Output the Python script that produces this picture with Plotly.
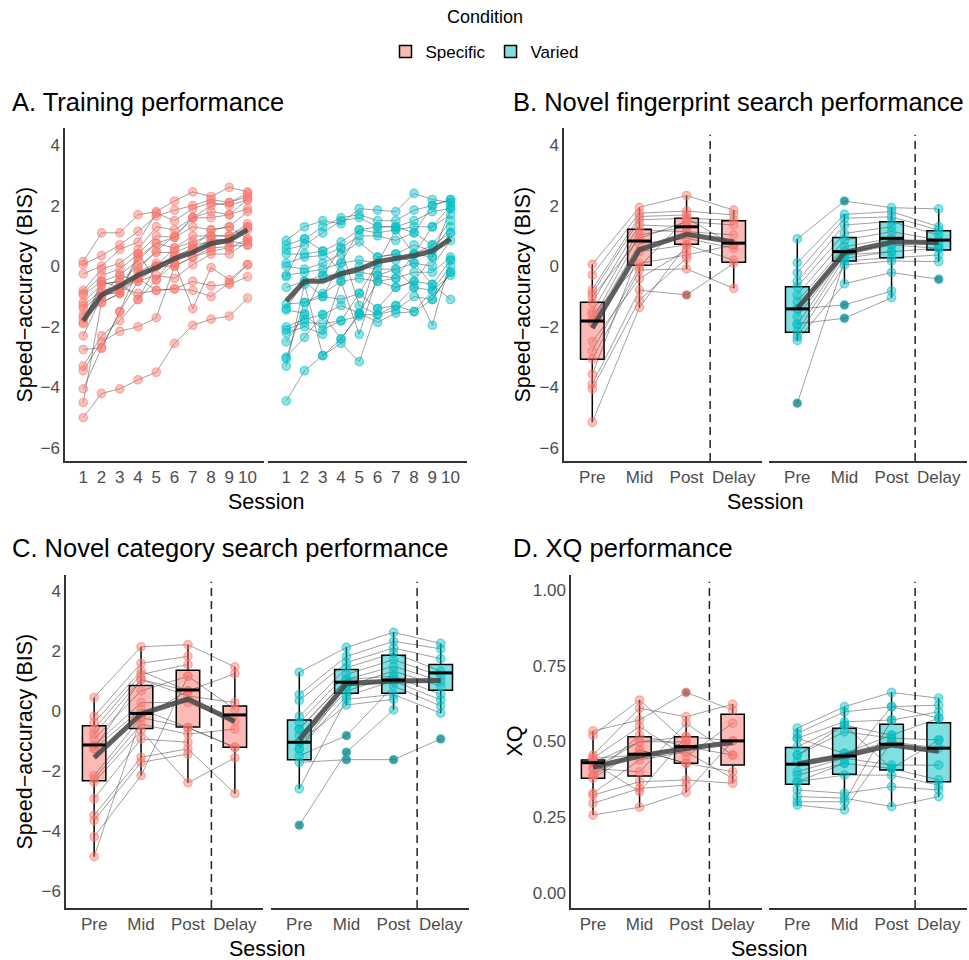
import plotly.graph_objects as go

W, H = 969, 960
FONT = "Liberation Sans, Arial, Helvetica, sans-serif"
SPEC_COL = (248, 118, 109)
VAR_COL = (0, 191, 196)

conditions = ["Specific", "Varied"]
train_sessions = [1, 2, 3, 4, 5, 6, 7, 8, 9, 10]
train_labels = ["1", "2", "3", "4", "5", "6", "7", "8", "9", "10"]
test_sessions = [1, 2, 3, 4]
test_labels = ["Pre", "Mid", "Post", "Delay"]

# ---------------- A. Training performance (BIS per participant, sessions 1-10)
train_specific = [
    [0.15, 1.10, 1.10, 1.70, 1.80, 2.15, 2.45, 2.30, 2.60, 2.45],
    [0.05, 0.35, 0.70, 1.15, 1.65, 1.85, 2.00, 2.20, 2.10, 2.30],
    [-0.25, 0.00, 0.55, 0.80, 1.75, 1.50, 1.90, 2.10, 2.00, 2.20],
    [-0.80, -0.10, 0.10, 0.55, 1.30, 1.20, 1.60, 1.60, 1.70, 1.90],
    [-0.90, -0.30, -0.10, 0.40, 1.00, 0.95, 1.30, 1.20, 1.30, 1.80],
    [-0.95, -0.50, -0.30, 0.20, 0.75, 0.60, 1.00, 1.00, 1.00, 1.40],
    [-1.20, -0.60, -0.50, 0.00, 0.45, 0.45, 0.70, 0.80, 0.90, 1.30],
    [-1.30, -0.80, -0.70, -0.20, 0.10, 0.20, 0.55, 0.70, 0.80, 1.20],
    [-1.40, -0.90, -0.90, -0.40, 0.00, 0.00, 0.30, 0.50, 0.60, 0.90],
    [-1.60, -1.00, -0.30, -0.50, -0.30, -0.40, 0.05, 0.40, 0.40, 0.80],
    [-1.70, -1.20, -0.90, 0.40, -0.45, 0.10, -1.40, -0.05, -0.45, 0.05],
    [-1.85, -0.50, -0.70, -0.90, -0.80, -0.75, -0.80, -1.00, -0.55, 0.05],
    [-1.90, -0.60, -0.50, -1.10, -0.45, 0.35, 0.55, 0.90, 0.85, 0.70],
    [-2.30, -1.00, -0.80, -0.40, -0.80, -0.75, -0.50, -0.65, -0.60, -0.35],
    [-2.75, -2.70, -1.50, -0.50, 0.00, 0.60, 0.80, 1.00, 1.00, 1.30],
    [-3.30, -2.30, -1.80, -1.10, 0.00, 0.30, 0.60, 1.20, 1.30, 0.90],
    [-3.45, -2.50, -2.15, -2.00, -1.70, 0.00, 0.30, 0.60, 0.65, 0.70],
    [-4.05, -2.70, -1.50, -0.10, 0.50, 1.00, 1.60, 1.80, 1.70, 2.20],
    [-4.50, -1.20, -0.90, 0.30, 0.75, 0.95, 1.60, 2.00, 2.10, 2.40],
    [-5.00, -4.20, -4.05, -3.75, -3.50, -2.55, -1.95, -1.75, -1.65, -1.05],
]
train_varied = [
    [0.85, 1.30, 1.50, 1.40, 1.90, 1.85, 1.80, 2.40, 2.20, 2.10],
    [0.70, 0.90, 1.30, 1.60, 1.70, 1.50, 1.50, 1.85, 2.00, 2.20],
    [0.55, 0.70, 1.10, 1.50, 1.60, 1.30, 1.30, 1.50, 1.80, 1.90],
    [0.40, 0.40, 0.50, 0.80, 1.20, 1.10, 1.20, 1.30, 1.30, 1.70],
    [0.10, 0.30, 0.35, 0.60, 1.00, 1.00, 0.85, 1.10, 0.70, 1.50],
    [0.00, -0.10, 0.10, 0.40, 0.80, 0.30, 0.40, 0.70, 0.50, 1.30],
    [-0.30, -0.20, -0.10, 0.10, 0.20, 0.10, 0.20, 0.40, 0.30, 1.10],
    [-0.35, 0.90, 0.50, -0.20, 0.00, -0.10, -0.10, 0.10, 0.00, 0.85],
    [-0.70, -0.50, -0.30, -0.30, -0.20, -0.30, -0.40, -0.20, -0.20, 0.30],
    [-1.25, -1.20, -0.90, -0.50, -0.40, -0.50, -0.70, -0.50, -0.60, 0.20],
    [-1.40, -0.50, -1.00, -1.10, -0.90, -1.40, -1.30, -0.70, -0.80, 0.00],
    [-1.45, -1.55, -0.30, 0.60, -1.30, -1.60, -1.45, -1.00, -1.10, -0.20],
    [-2.00, -1.75, -1.60, -1.30, -1.55, -1.85, -1.55, -1.50, -0.80, -0.30],
    [-2.10, -1.85, -1.90, -1.80, -1.65, 0.30, 0.40, 0.10, -0.60, -1.10],
    [-2.20, -2.00, -2.25, -0.50, -2.25, -0.30, -0.10, -0.70, -1.95, 0.20],
    [-2.50, -1.60, -2.10, -1.80, -0.90, 0.10, 1.20, 0.40, 0.70, 1.10],
    [-3.00, -2.35, -1.60, -2.40, -1.55, -0.50, -0.40, 0.40, 1.30, 2.00],
    [-3.05, -1.20, -1.00, 0.10, 1.20, 1.30, 1.30, 1.10, 2.00, 2.20],
    [-3.30, -0.60, -2.95, -2.55, -3.15, -1.40, -0.70, -0.50, 0.30, 1.90],
    [-4.45, -3.45, -2.95, -2.40, -1.60, -1.60, -1.30, -1.50, -1.10, -0.20],
]
train_mean_specific = [-1.80, -0.95, -0.65, -0.30, -0.05, 0.25, 0.45, 0.75, 0.85, 1.20]
train_mean_varied = [-1.15, -0.50, -0.50, -0.25, -0.10, 0.15, 0.25, 0.35, 0.50, 0.90]

# ---------------- B. Novel fingerprint search (Pre, Mid, Post, Delay)
fp_specific = [
    [0.06, 1.94, 2.33, 1.85], [-0.29, 1.75, 1.82, 1.69], [-0.77, 1.64, 1.69, None],
    [-0.90, 1.53, 1.58, 1.52], [-1.01, 0.92, 1.47, 1.36], [-1.20, 1.36, 1.30, None],
    [-1.50, 1.19, 1.14, 1.03], [-1.60, 0.09, 0.37, 0.70], [-1.78, 1.03, 1.30, None],
    [-1.85, 0.75, 0.92, 0.59], [-2.49, -0.41, 0.53, None], [-3.07, -0.13, -0.09, -0.73],
    [-3.57, 0.48, 0.70, 0.20], [-3.90, -0.79, -0.95, 0.09], [-4.05, -1.12, 0.26, None],
    [-5.15, -1.36, 0.70, None], [-2.80, -0.02, 1.58, 0.70],
]
fp_varied = [
    [0.90, 2.15, 1.93, 1.89], [0.11, 1.71, 1.80, 1.30], [-0.22, 1.58, 1.63, 1.19],
    [-0.50, 1.36, 1.47, 1.03], [-0.68, 1.08, 1.30, None], [-0.95, 0.86, 1.14, 0.86],
    [-1.17, 0.64, 0.92, 0.70], [-1.41, 0.48, 0.70, None], [-1.67, 0.37, 0.48, 0.59],
    [-1.94, 0.37, 0.70, 0.59], [-2.16, 0.26, 0.48, None], [-2.33, 0.04, 0.17, 0.15],
    [-2.45, -0.58, -0.21, -0.43], [-1.41, -1.28, -0.82, None], [-1.90, -1.72, -1.04, None],
    [-4.52, 0.17, 0.28, 0.37],
]
fp_mean_specific = [-2.05, 0.55, 1.05, 0.80]
fp_mean_varied = [-1.40, 0.45, 0.80, 0.78]
fp_specific_q1 = [-3.07, 0.03, 0.72, 0.13]
fp_specific_med = [-1.81, 0.83, 1.30, 0.76]
fp_specific_q3 = [-1.19, 1.22, 1.58, 1.50]
fp_specific_lo = [-5.15, -1.36, -0.09, -0.73]
fp_specific_hi = [0.06, 1.94, 2.33, 1.85]
fp_varied_q1 = [-2.18, 0.17, 0.28, 0.53]
fp_varied_med = [-1.41, 0.48, 0.92, 0.86]
fp_varied_q3 = [-0.68, 0.95, 1.47, 1.17]
fp_varied_lo = [-2.45, -0.58, -1.04, 0.15]
fp_varied_hi = [0.90, 1.71, 1.93, 1.89]

# ---------------- C. Novel category search
cat_specific = [
    [0.45, 2.14, 2.21, 1.47], [-0.18, 1.59, 1.82, None], [-0.38, 1.33, 0.67, 1.24],
    [-0.60, 1.22, 1.55, None], [-0.77, 1.05, 0.50, 0.28], [-0.93, 0.67, 1.16, 0.06],
    [-1.15, 0.28, 0.28, -0.33], [-1.26, 0.06, -0.55, -1.21], [-2.15, -0.22, 0.67, None],
    [-2.26, -0.44, -0.77, -0.60], [-2.37, -0.66, -2.39, -1.56], [-2.92, -0.93, -1.04, None],
    [-3.47, -1.54, -1.26, -2.75], [-3.64, -1.71, -1.43, None], [-4.19, -2.15, 1.16, None],
    [-4.85, -0.22, -0.55, -1.21], [-1.26, 1.05, 0.67, None],
]
cat_varied = [
    [1.29, 2.12, 2.62, 2.25], [0.55, 1.82, 2.32, 2.07], [0.35, 1.61, 2.10, 1.74],
    [-0.18, 1.44, 1.93, 1.33], [-0.38, 1.22, 1.71, 1.16], [-0.60, 1.05, 1.49, 1.00],
    [-0.82, 0.83, 1.33, 0.83], [-1.04, 0.67, 1.16, 0.55], [-1.26, 0.50, 1.00, 0.37],
    [-1.49, -0.82, 0.83, 0.17], [-1.71, -1.62, -1.62, -0.93], [-2.59, 0.39, 0.55, -0.07],
    [-3.80, -1.37, 0.04, None], [-1.04, 0.20, 0.39, None], [-0.60, 1.05, 1.16, None],
    [-1.26, 0.83, 1.00, None],
]
cat_mean_specific = [-1.55, -0.10, 0.40, -0.35]
cat_mean_varied = [-0.95, 0.92, 1.00, 1.02]
cat_specific_q1 = [-2.32, -0.58, -0.53, -1.21]
cat_specific_med = [-1.13, -0.08, 0.70, -0.13]
cat_specific_q3 = [-0.49, 0.85, 1.36, 0.17]
cat_specific_lo = [-4.85, -2.15, -2.39, -2.75]
cat_specific_hi = [0.45, 2.14, 2.21, 1.47]
cat_varied_q1 = [-1.62, 0.59, 0.59, 0.69]
cat_varied_med = [-1.04, 0.96, 1.03, 1.27]
cat_varied_q3 = [-0.30, 1.38, 1.86, 1.55]
cat_varied_lo = [-2.59, 0.20, 0.04, -0.07]
cat_varied_hi = [1.29, 2.12, 2.62, 2.25]

# ---------------- D. XQ performance
xq_specific = [
    [0.535, 0.571, 0.662, 0.604], [0.521, 0.637, 0.499, None], [0.455, 0.610, 0.582, 0.623],
    [0.445, 0.549, 0.450, 0.560], [0.430, 0.499, 0.516, 0.502], [0.411, 0.400, 0.560, 0.455],
    [0.389, 0.521, 0.483, None], [0.379, 0.472, 0.428, 0.400], [0.329, 0.439, 0.466, 0.378],
    [0.323, 0.367, 0.373, 0.362], [0.296, 0.345, 0.356, None], [0.257, 0.283, 0.332, 0.502],
    [0.430, 0.334, 0.516, None], [0.445, 0.455, 0.483, 0.455], [0.389, 0.472, 0.428, None],
    [0.411, 0.499, 0.499, None],
]
xq_varied = [
    [0.544, 0.615, 0.662, 0.643], [0.527, 0.598, 0.615, 0.620], [0.511, 0.565, 0.571, 0.598],
    [0.483, 0.554, 0.521, 0.577], [0.455, 0.532, 0.511, 0.505], [0.433, 0.461, 0.499, 0.478],
    [0.400, 0.445, 0.422, 0.422], [0.389, 0.428, 0.411, 0.373], [0.367, 0.389, 0.389, 0.356],
    [0.340, 0.329, 0.351, 0.340], [0.318, 0.313, 0.285, 0.318], [0.301, 0.301, 0.571, None],
    [0.290, 0.274, 0.499, None], [0.455, 0.554, 0.411, 0.505], [0.511, 0.461, 0.521, None],
    [0.367, 0.428, 0.615, 0.577],
]
xq_mean_specific = [0.415, 0.452, 0.477, 0.497]
xq_mean_varied = [0.425, 0.452, 0.488, 0.468]
xq_specific_q1 = [0.379, 0.386, 0.428, 0.422]
xq_specific_med = [0.430, 0.458, 0.483, 0.502]
xq_specific_q3 = [0.439, 0.516, 0.516, 0.590]
xq_specific_lo = [0.257, 0.283, 0.332, 0.362]
xq_specific_hi = [0.535, 0.637, 0.582, 0.623]
xq_varied_q1 = [0.359, 0.392, 0.406, 0.367]
xq_varied_med = [0.425, 0.452, 0.491, 0.478]
xq_varied_q3 = [0.480, 0.544, 0.557, 0.562]
xq_varied_lo = [0.290, 0.274, 0.285, 0.318]
xq_varied_hi = [0.544, 0.615, 0.662, 0.643]


def rgba(c, a):
    return "rgba(%d,%d,%d,%.2f)" % (c[0], c[1], c[2], a)


def fx(px):
    return px / W


def fy(py):
    return 1 - py / H


fig = go.Figure()
layout = dict()
annotations = []
shapes = []

TICK_COL = "#4D4D4D"
AXIS_COL = "#333333"

panels = [
    dict(title="A. Training performance", tx=10, ty=102, ytitle="Speed\u2212accuracy (BIS)",
         ytx=24, facets=[(65, 264, [0, 10.9]), (268, 467, [0, 10.9])], yt=128, yb=461,
         yrange=[-6.43, 4.56], yticks=[-6, -4, -2, 0, 2, 4], yfmt=None,
         xs=train_sessions, xlabels=train_labels, data=[train_specific, train_varied],
         means=[train_mean_specific, train_mean_varied], boxes=None, dashed=False, legend=False),
    dict(title="B. Novel fingerprint search performance", tx=511, ty=102,
         ytitle="Speed\u2212accuracy (BIS)", ytx=522,
         facets=[(564, 762, [0.4, 4.6]), (769, 967, [0.4, 4.6])], yt=128, yb=461,
         yrange=[-6.43, 4.56], yticks=[-6, -4, -2, 0, 2, 4], yfmt=None,
         xs=test_sessions, xlabels=test_labels, data=[fp_specific, fp_varied],
         means=[fp_mean_specific, fp_mean_varied],
         boxes=[(fp_specific_q1, fp_specific_med, fp_specific_q3, fp_specific_lo, fp_specific_hi),
                (fp_varied_q1, fp_varied_med, fp_varied_q3, fp_varied_lo, fp_varied_hi)],
         dashed=True, legend=True),
    dict(title="C. Novel category search performance", tx=10, ty=548,
         ytitle="Speed\u2212accuracy (BIS)", ytx=24,
         facets=[(66, 263, [0.4, 4.6]), (271, 469, [0.4, 4.6])], yt=575, yb=908,
         yrange=[-6.56, 4.53], yticks=[-6, -4, -2, 0, 2, 4], yfmt=None,
         xs=test_sessions, xlabels=test_labels, data=[cat_specific, cat_varied],
         means=[cat_mean_specific, cat_mean_varied],
         boxes=[(cat_specific_q1, cat_specific_med, cat_specific_q3, cat_specific_lo, cat_specific_hi),
                (cat_varied_q1, cat_varied_med, cat_varied_q3, cat_varied_lo, cat_varied_hi)],
         dashed=True, legend=False),
    dict(title="D. XQ performance", tx=511, ty=548, ytitle="XQ", ytx=514,
         facets=[(571, 762, [0.527, 4.63]), (769, 967, [0.4, 4.6])], yt=575, yb=908,
         yrange=[-0.05, 1.05], yticks=[0, 0.25, 0.5, 0.75, 1.0], yfmt=".2f",
         xs=test_sessions, xlabels=test_labels, data=[xq_specific, xq_varied],
         means=[xq_mean_specific, xq_mean_varied],
         boxes=[(xq_specific_q1, xq_specific_med, xq_specific_q3, xq_specific_lo, xq_specific_hi),
                (xq_varied_q1, xq_varied_med, xq_varied_q3, xq_varied_lo, xq_varied_hi)],
         dashed=True, legend=False),
]

colors = [SPEC_COL, VAR_COL]
ax_i = 0
box_traces, scatter_traces = [], []

for p in panels:
    for fi, (x0, x1, xr) in enumerate(p["facets"]):
        ax_i += 1
        xname = "xaxis" if ax_i == 1 else "xaxis%d" % ax_i
        yname = "yaxis" if ax_i == 1 else "yaxis%d" % ax_i
        xref = "x" if ax_i == 1 else "x%d" % ax_i
        yref = "y" if ax_i == 1 else "y%d" % ax_i
        layout[xname] = dict(domain=[fx(x0), fx(x1)], range=xr, anchor=yref,
                             tickvals=p["xs"], ticktext=p["xlabels"], showgrid=False,
                             zeroline=False, showline=True, linecolor=AXIS_COL, linewidth=1.5,
                             ticks="",
                             tickfont=dict(size=17, color=TICK_COL, family=FONT), fixedrange=True)
        yd = dict(domain=[fy(p["yb"]), fy(p["yt"])], range=p["yrange"], anchor=xref,
                  showgrid=False, zeroline=False, fixedrange=True)
        if fi == 0:
            yd.update(showline=True, linecolor=AXIS_COL, linewidth=1.5, tickvals=p["yticks"],
                      ticks="",
                      tickfont=dict(size=17, color=TICK_COL, family=FONT))
            if p["yfmt"]:
                yd["tickformat"] = p["yfmt"]
        else:
            yd.update(showline=False, showticklabels=False)
        layout[yname] = yd

        col = colors[fi]
        cond = conditions[fi]
        xs = p["xs"]
        parts = p["data"][fi]

        # boxes
        if p["boxes"]:
            q1, med, q3, lo, hi = p["boxes"][fi]
            box_traces.append(go.Box(
                x=xs, q1=q1, median=med, q3=q3, lowerfence=lo, upperfence=hi,
                boxpoints=False, width=0.5, whiskerwidth=0,
                fillcolor=rgba(col, 0.5), line=dict(color="black", width=1.5),
                name=cond, legendgroup=cond, showlegend=p["legend"],
                xaxis=xref, yaxis=yref, hoverinfo="skip"))

        # individual participant lines
        lx, ly = [], []
        for row in parts:
            for xi, v in zip(xs, row):
                lx.append(xi if v is not None else None)
                ly.append(v)
            lx.append(None)
            ly.append(None)
        scatter_traces.append(go.Scatter(
            x=lx, y=ly, mode="lines", line=dict(color="rgba(55,55,55,0.6)", width=0.8),
            connectgaps=False, showlegend=False, xaxis=xref, yaxis=yref, hoverinfo="skip"))

        # outliers (outside whisker fences) drawn dark under the points
        if p["boxes"]:
            q1, med, q3, lo, hi = p["boxes"][fi]
            ox, oy = [], []
            for row in parts:
                for k, v in enumerate(row):
                    if v is not None and (v < lo[k] - 1e-9 or v > hi[k] + 1e-9):
                        ox.append(xs[k])
                        oy.append(v)
            if ox:
                scatter_traces.append(go.Scatter(
                    x=ox, y=oy, mode="markers",
                    marker=dict(size=8, color="rgba(20,20,20,0.55)", line=dict(width=0)),
                    showlegend=False, xaxis=xref, yaxis=yref, hoverinfo="skip"))

        # participant points
        px_, py_ = [], []
        for row in parts:
            for xi, v in zip(xs, row):
                if v is not None:
                    px_.append(xi)
                    py_.append(v)
        scatter_traces.append(go.Scatter(
            x=px_, y=py_, mode="markers",
            marker=dict(size=8.5, color=rgba(col, 0.45), line=dict(color=rgba(col, 0.55), width=1.2)),
            showlegend=False, xaxis=xref, yaxis=yref, hoverinfo="skip"))

        # mean line
        scatter_traces.append(go.Scatter(
            x=xs, y=p["means"][fi], mode="lines",
            line=dict(color="rgba(68,68,68,0.85)", width=5),
            showlegend=False, xaxis=xref, yaxis=yref, hoverinfo="skip"))

        # thick median bars
        if p["boxes"]:
            q1, med, q3, lo, hi = p["boxes"][fi]
            mx, my = [], []
            for xi, m in zip(xs, med):
                mx += [xi - 0.25, xi + 0.25, None]
                my += [m, m, None]
            scatter_traces.append(go.Scatter(
                x=mx, y=my, mode="lines", line=dict(color="black", width=3),
                showlegend=False, xaxis=xref, yaxis=yref, hoverinfo="skip"))

        if p["dashed"]:
            shapes.append(dict(type="line", xref=xref, yref=yref + " domain",
                               x0=3.5, x1=3.5, y0=0, y1=0.98,
                               line=dict(color="#222222", width=1.5, dash="8px,5px")))

    # panel title
    annotations.append(dict(text=p["title"], x=fx(p["tx"]), y=fy(p["ty"]), xref="paper",
                            yref="paper", xanchor="left", yanchor="middle", showarrow=False,
                            font=dict(size=25.5, color="black", family=FONT)))
    # x title
    xc = (p["facets"][0][0] + p["facets"][1][1]) / 2
    annotations.append(dict(text="Session", x=fx(xc), y=fy(p["yb"] + 41), xref="paper",
                            yref="paper", xanchor="center", yanchor="middle", showarrow=False,
                            font=dict(size=21.5, color="black", family=FONT)))
    # y title
    annotations.append(dict(text=p["ytitle"], x=fx(p["ytx"]), y=fy((p["yt"] + p["yb"]) / 2),
                            xref="paper", yref="paper", xanchor="center", yanchor="middle",
                            textangle=-90, showarrow=False,
                            font=dict(size=21.5, color="black", family=FONT)))

# legend title
annotations.append(dict(text="Condition", x=fx(485), y=fy(17), xref="paper", yref="paper",
                        xanchor="center", yanchor="middle", showarrow=False,
                        font=dict(size=18, color="black", family=FONT)))

for t in box_traces:
    fig.add_trace(t)
for t in scatter_traces:
    fig.add_trace(t)

fig.update_layout(
    width=W, height=H, autosize=False,
    margin=dict(l=0, r=0, t=0, b=0),
    paper_bgcolor="white", plot_bgcolor="white",
    font=dict(family=FONT, color="black"),
    showlegend=True,
    legend=dict(orientation="h", x=0.5, xanchor="center", y=fy(52), yanchor="middle",
                font=dict(size=17, family=FONT), bgcolor="rgba(0,0,0,0)", itemwidth=30),
    annotations=annotations,
    shapes=shapes,
    **layout,
)

fig.write_html("out.html", config={"displayModeBar": False},
               post_script="document.body.style.margin='0';document.body.style.overflow='hidden';")
